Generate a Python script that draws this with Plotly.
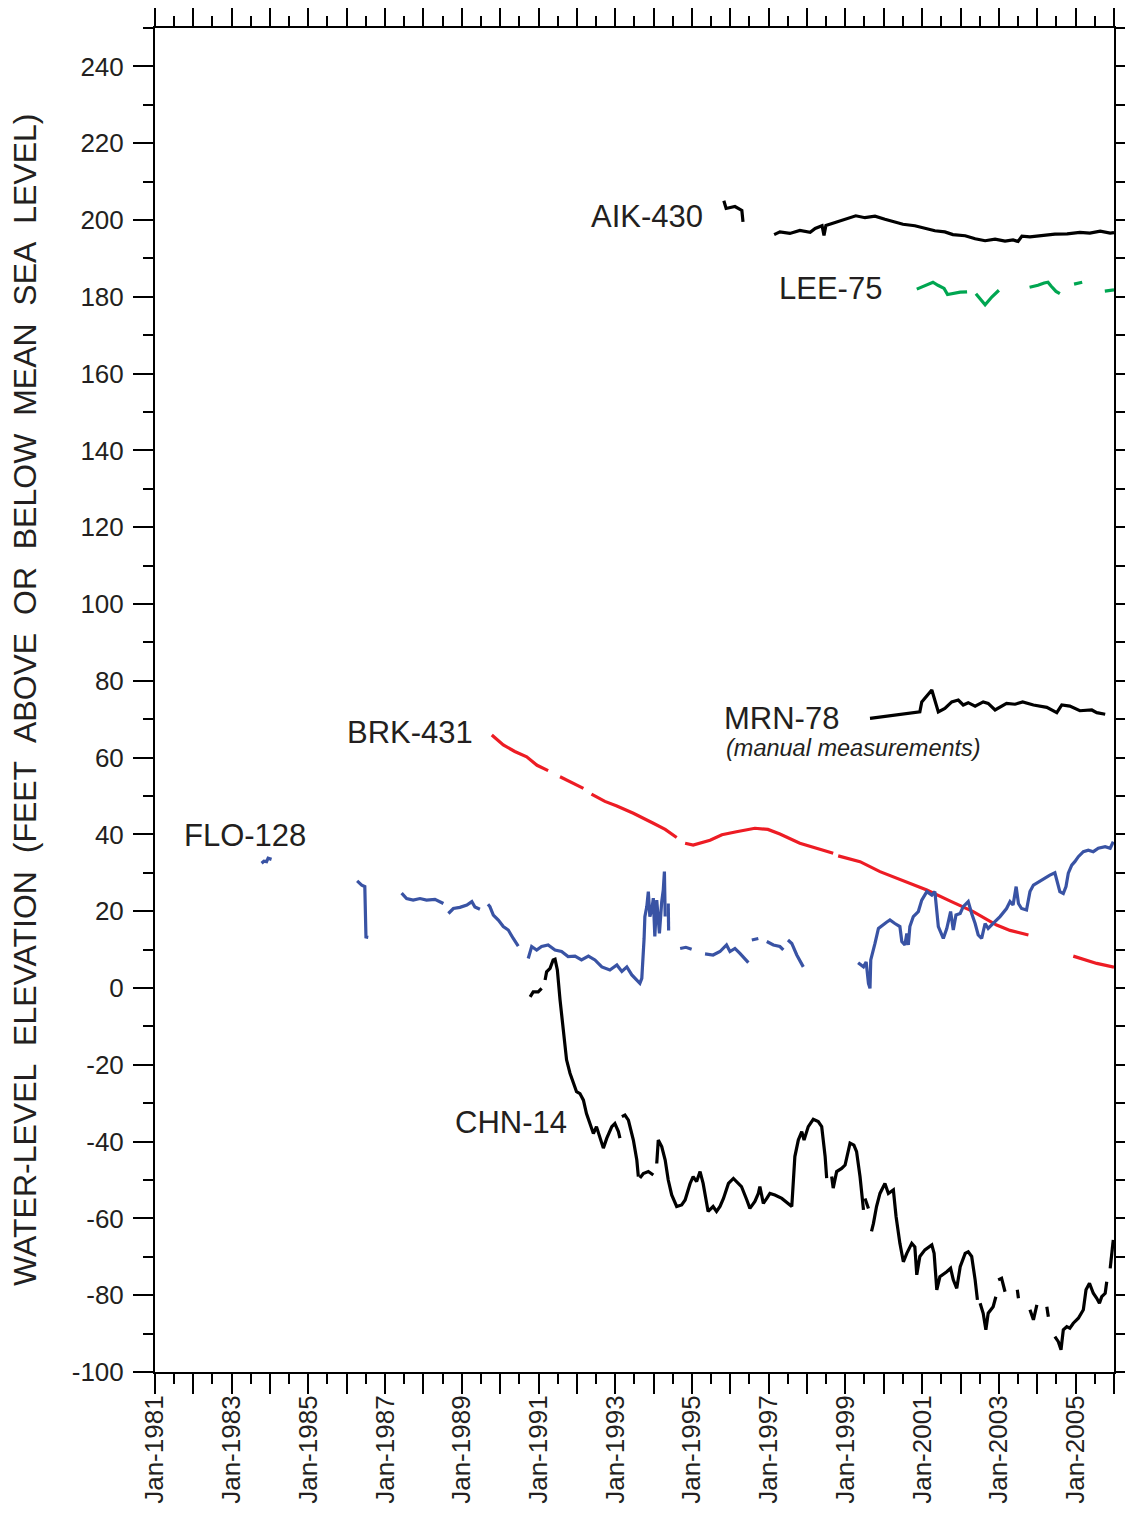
import plotly.graph_objects as go
import pandas as pd

# ---------------- data (decimal years, feet relative to mean sea level) -------------
aik_x = [1995.83, 1995.89, 1996.12, 1996.30, 1996.33, None,
         1997.14, 1997.29, 1997.55, 1997.81, 1998.08, 1998.21, 1998.39, 1998.44, 1998.49,
         1998.81, 1998.99, 1999.27, 1999.51, 1999.77, 2000.03, 2000.29, 2000.50, 2000.81,
         2001.07, 2001.33, 2001.59, 2001.80, 2002.12, 2002.38, 2002.64, 2002.90, 2003.16,
         2003.37, 2003.50, 2003.60, 2003.81, 2004.12, 2004.46, 2004.78, 2005.11, 2005.37,
         2005.64, 2005.90, 2006.00]
aik_y = [205.0, 203.0, 203.5, 202.5, 199.5, None,
         196.2, 196.9, 196.5, 197.3, 196.8, 197.8, 198.5, 196.0, 198.6,
         199.7, 200.3, 201.1, 200.6, 201.0, 200.2, 199.6, 198.9, 198.5,
         197.9, 197.2, 196.9, 196.2, 195.9, 195.1, 194.6, 195.0, 194.5,
         194.8, 194.4, 195.8, 195.6, 195.9, 196.3, 196.4, 196.8, 196.6,
         197.1, 196.6, 196.7]

lee_x = [2000.86, 2001.07, 2001.28, 2001.41, 2001.57, 2001.66, 2001.80, 2001.99, 2002.17, None,
         2002.40, 2002.51, 2002.64, 2002.82, 2003.00, None,
         2003.80, 2004.02, 2004.18, 2004.28, 2004.36, 2004.49, 2004.59, None,
         2004.96, 2005.17, None,
         2005.76, 2006.00]
lee_y = [182.0, 183.0, 183.8, 183.0, 182.2, 180.6, 180.9, 181.2, 181.3, None,
         180.8, 179.5, 177.9, 180.0, 181.7, None,
         182.5, 183.0, 183.6, 183.8, 182.8, 181.4, 180.8, None,
         183.3, 183.8, None,
         181.5, 181.8]

mrn_x = [1999.64, 2000.94, 2000.99, 2001.25, 2001.42, 2001.59, 2001.77, 2001.94, 2002.07,
         2002.20, 2002.38, 2002.59, 2002.72, 2002.90, 2003.20, 2003.42, 2003.62, 2003.90,
         2004.25, 2004.51, 2004.64, 2004.85, 2005.11, 2005.42, 2005.55, 2005.77]
mrn_y = [70.2, 71.9, 74.5, 77.6, 71.9, 72.8, 74.5, 75.0, 73.7,
         74.3, 73.4, 74.5, 74.1, 72.4, 74.1, 73.9, 74.5, 73.7,
         73.1, 71.7, 73.7, 73.4, 72.2, 72.4, 71.7, 71.3]

brk_x = [1989.78, 1990.08, 1990.38, 1990.69, 1990.96, 1991.25, None,
         1991.56, 1991.87, 1992.17, None,
         1992.38, 1992.73, 1993.04, 1993.47, 1993.99, 1994.30, 1994.60, None,
         1994.82, 1995.03, 1995.47, 1995.78, 1996.16, 1996.64, 1996.98, 1997.29, 1997.81,
         1998.16, 1998.68, None,
         1998.81, 1999.38, 1999.90, 2000.51, 2001.12, 2001.72, 2002.33, 2002.94, 2003.29,
         2003.77, None,
         2004.94, 2005.55, 2006.00]
brk_y = [65.9, 63.3, 61.6, 60.2, 58.0, 56.6, None,
         55.0, 53.5, 52.0, None,
         50.5, 48.6, 47.4, 45.5, 42.9, 41.3, 39.2, None,
         37.7, 37.2, 38.5, 39.9, 40.7, 41.6, 41.3, 40.1, 37.7,
         36.6, 35.1, None,
         34.4, 32.9, 30.3, 28.0, 25.5, 22.7, 19.9, 16.4, 15.0,
         13.8, None,
         8.3, 6.4, 5.4]

flo_x = [1983.78, 1983.84, 1983.91, 1983.95, 1984.04, None,
         1986.27, 1986.39, 1986.47, 1986.50, 1986.56, None,
         1987.43, 1987.56, 1987.73, 1987.91, 1988.08, 1988.30, 1988.52, None,
         1988.65, 1988.78, 1988.95, 1989.13, 1989.26, 1989.34, 1989.47, None,
         1989.68, 1989.73, 1989.82, 1989.95, 1990.08, 1990.21, 1990.34, 1990.47, None,
         1990.73, 1990.82, 1990.95, 1991.08, 1991.25, 1991.43, 1991.60, 1991.77, 1991.95,
         1992.12, 1992.30, 1992.47, 1992.65, 1992.86, 1993.04, 1993.17, 1993.30, 1993.43,
         1993.64, 1993.69, 1993.75, 1993.77, 1993.82, 1993.86, 1993.90, 1993.95, 1993.99,
         1994.03, 1994.08, 1994.15, 1994.21, 1994.25, 1994.28, 1994.30, None,
         1994.38, 1994.39, None,
         1994.69, 1994.84, 1994.99, None,
         1995.34, 1995.55, 1995.73, 1995.90, 1995.99, 1996.12, 1996.25, 1996.47, None,
         1996.56, 1996.73, None,
         1996.95, 1997.12, 1997.29, 1997.38, None,
         1997.50, 1997.60, 1997.73, 1997.90, None,
         1999.33, 1999.47, 1999.54, 1999.60, 1999.64, 1999.66, 1999.77, 1999.86, 2000.08,
         2000.16, 2000.29, 2000.42, 2000.47, 2000.55, 2000.60, 2000.64, 2000.68, 2000.77,
         2000.90, 2000.99, 2001.12, 2001.25, 2001.33, 2001.42, 2001.55, 2001.64, 2001.74,
         2001.81, 2001.88, 2001.99, 2002.07, 2002.20, 2002.29, 2002.38, 2002.46, 2002.55,
         2002.64, 2002.72, 2002.85, 2003.03, 2003.20, 2003.29, 2003.37, 2003.45, 2003.51,
         2003.59, 2003.72, 2003.81, 2003.90, 2004.16, 2004.33, 2004.46, 2004.51, 2004.59,
         2004.68, 2004.75, 2004.81, 2004.90, 2004.98, 2005.07, 2005.20, 2005.33, 2005.46,
         2005.59, 2005.77, 2005.90, 2005.98]
flo_y = [32.5, 33.0, 32.9, 33.8, 33.5, None,
         27.9, 26.8, 26.4, 13.3, 13.2, None,
         24.7, 23.3, 22.9, 23.3, 22.9, 23.1, 22.0, None,
         19.4, 20.7, 21.0, 21.6, 22.5, 21.1, 20.5, None,
         21.8, 21.2, 19.0, 17.7, 16.0, 15.1, 12.9, 10.9, None,
         7.7, 10.8, 9.9, 10.8, 11.2, 9.9, 9.5, 8.2, 8.3,
         7.3, 8.3, 7.3, 5.5, 4.7, 6.0, 4.3, 5.5, 3.4,
         1.2, 2.5, 12.9, 18.6, 21.2, 25.1, 18.6, 20.3, 23.4,
         13.4, 22.9, 14.2, 22.5, 25.5, 30.3, 18.6, None,
         22.0, 15.0, None,
         10.3, 10.6, 10.1, None,
         8.9, 8.6, 9.5, 11.2, 9.5, 10.3, 9.0, 6.6, None,
         12.5, 12.9, None,
         12.1, 11.2, 10.8, 9.9, None,
         12.5, 11.6, 8.6, 5.5, None,
         6.6, 5.5, 6.8, 1.2, -0.1, 7.3, 11.6, 15.5, 17.2,
         17.7, 16.8, 16.0, 12.1, 11.2, 14.2, 11.2, 16.0, 18.6,
         19.9, 22.9, 25.1, 24.2, 25.1, 16.0, 12.9, 15.5, 19.9,
         15.1, 19.0, 19.4, 21.2, 22.5, 19.4, 16.8, 13.8, 12.9,
         16.8, 15.5, 16.8, 18.6, 20.7, 22.5, 21.6, 26.4, 22.0,
         20.7, 20.3, 25.1, 26.8, 28.5, 29.4, 30.0, 28.1, 25.1,
         24.6, 26.4, 29.9, 32.0, 32.9, 34.2, 35.5, 35.9, 35.5,
         36.4, 36.8, 36.4, 38.1]

chn_x = [1990.78, 1990.86, 1990.99, 1991.08, None,
         1991.17, 1991.21, 1991.30, 1991.38, 1991.43, 1991.49, 1991.56, 1991.64, 1991.73,
         1991.82, 1991.91, 1991.99, 1992.08, 1992.17, 1992.25, 1992.34, 1992.43, 1992.51,
         1992.60, 1992.69, 1992.78, 1992.91, 1992.99, 1993.08, 1993.12, None,
         1993.17, 1993.25, 1993.34, 1993.47, 1993.56, 1993.60, None,
         1993.64, 1993.73, 1993.86, 1993.99, None,
         1994.08, 1994.12, 1994.21, 1994.30, 1994.38, 1994.47, 1994.60, 1994.73, 1994.82,
         1994.95, 1995.03, 1995.12, 1995.21, 1995.29, 1995.42, 1995.55, 1995.64, 1995.73,
         1995.82, 1995.95, 1996.08, 1996.21, 1996.29, 1996.43, 1996.51, 1996.64, 1996.73,
         1996.77, 1996.86, 1996.95, 1997.03, 1997.16, 1997.34, 1997.60, 1997.68, 1997.77,
         1997.86, 1997.92, 1998.03, 1998.16, 1998.29, 1998.38, 1998.47, 1998.51, None,
         1998.64, 1998.68, 1998.77, 1998.90, 1998.99, 1999.12, 1999.22, 1999.29, 1999.38,
         1999.47, None,
         1999.51, 1999.60, None,
         1999.68, 1999.73, 1999.81, 1999.90, 2000.03, 2000.12, 2000.25, 2000.32, 2000.42,
         2000.51, 2000.60, 2000.73, 2000.81, 2000.86, 2000.94, 2001.07, 2001.25, 2001.31,
         2001.38, 2001.46, 2001.64, 2001.74, 2001.81, 2001.90, 2001.99, 2002.12, 2002.20,
         2002.29, 2002.38, 2002.44, None,
         2002.51, 2002.59, 2002.66, 2002.72, 2002.85, 2002.92, None,
         2002.98, 2003.07, 2003.16, None,
         2003.48, 2003.51, None,
         2003.81, 2003.90, 2003.99, None,
         2004.25, 2004.29, None,
         2004.46, 2004.55, 2004.62, 2004.68, 2004.77, 2004.85, 2004.94, 2005.07, 2005.20,
         2005.27, 2005.36, 2005.46, 2005.55, 2005.62, 2005.68, 2005.77, 2005.81, None,
         2005.90, 2005.98]
chn_y = [-2.3, -1.0, -1.0, -0.1, None,
         2.1, 4.2, 5.1, 7.3, 7.5, 4.7, -3.1, -10.9, -18.7,
         -22.2, -24.8, -27.0, -27.5, -29.2, -32.7, -35.3, -37.9, -36.1,
         -38.7, -41.7, -39.1, -36.1, -35.3, -37.4, -39.1, None,
         -33.5, -33.1, -34.4, -39.6, -44.8, -49.1, None,
         -49.5, -48.3, -47.8, -48.7, None,
         -45.7, -39.6, -41.3, -44.8, -50.0, -53.9, -56.9, -56.5, -55.2,
         -50.9, -49.1, -50.4, -47.8, -50.9, -58.2, -56.9, -58.2, -56.9,
         -54.8, -50.9, -49.6, -50.9, -51.7, -55.2, -57.4, -55.6, -53.5,
         -51.7, -56.1, -54.8, -53.5, -53.9, -54.8, -56.9, -43.9, -39.6,
         -37.4, -39.6, -36.1, -34.2, -34.8, -36.1, -43.9, -49.5, None,
         -49.1, -52.1, -47.8, -47.0, -46.1, -40.4, -40.9, -42.6, -49.1,
         -57.8, None,
         -54.8, -57.4, None,
         -63.4, -61.3, -56.9, -53.5, -50.9, -53.5, -52.6, -59.5, -66.5,
         -71.3, -69.1, -66.5, -67.4, -74.7, -69.9, -68.2, -66.9, -69.1,
         -78.6, -75.2, -73.9, -73.0, -76.0, -78.2, -72.6, -69.1, -68.7,
         -69.9, -76.0, -81.2, None,
         -82.1, -84.7, -89.0, -84.7, -83.0, -80.4, None,
         -76.0, -75.6, -79.1, None,
         -78.6, -80.8, None,
         -83.8, -86.4, -82.5, None,
         -83.0, -85.6, None,
         -90.8, -92.1, -94.2, -89.0, -88.2, -88.6, -87.3, -86.0, -83.8,
         -78.6, -76.9, -79.5, -80.8, -82.1, -80.4, -79.5, -76.5, None,
         -73.0, -65.6]

# axis ticks
tick_years = list(range(1981, 2007))
label_years = list(range(1981, 2006, 2))
y_major = list(range(-100, 241, 20))
y_minor = list(range(-90, 251, 20))


def to_date(v):
    if v is None:
        return None
    yr = int(v)
    return pd.Timestamp(year=yr, month=1, day=1) + pd.Timedelta(days=(v - yr) * 365.25)


def dates(lst):
    return [to_date(v) for v in lst]


TXT = "#231f20"
FONT = "Arial, 'Liberation Sans', Helvetica, sans-serif"
LW = 3.2

fig = go.Figure()
series = [
    ("AIK-430", aik_x, aik_y, "#000000"),
    ("LEE-75", lee_x, lee_y, "#00a651"),
    ("MRN-78", mrn_x, mrn_y, "#000000"),
    ("BRK-431", brk_x, brk_y, "#ed1c24"),
    ("FLO-128", flo_x, flo_y, "#3953a4"),
    ("CHN-14", chn_x, chn_y, "#000000"),
]
for name, xs, ys, col in series:
    fig.add_trace(go.Scatter(x=dates(xs), y=ys, mode="lines", name=name,
                             line=dict(color=col, width=LW), connectgaps=False,
                             showlegend=False))

# labels
labels = [
    ("AIK-430", 1993.83, 201.0, False, 31),
    ("LEE-75", 1998.62, 182.2, False, 31),
    ("MRN-78", 1997.32, 70.3, False, 31),
    ("(manual measurements)", 1999.22, 62.5, True, 23.5),
    ("BRK-431", 1987.65, 66.6, False, 31),
    ("FLO-128", 1983.35, 39.6, False, 31),
    ("CHN-14", 1990.28, -35.1, False, 31),
]
for txt, lx, ly, ital, fs in labels:
    fig.add_annotation(x=to_date(lx), y=ly, xref="x", yref="y", text=txt, showarrow=False,
                       xanchor="center", yanchor="middle",
                       font=dict(family=FONT, size=fs, color=TXT,
                                 style="italic" if ital else "normal"))

sp = "\u00a0\u00a0"
ytitle = sp.join(["WATER-LEVEL", "ELEVATION", "(FEET", "ABOVE", "OR", "BELOW", "MEAN",
                  "SEA", "LEVEL)"])
fig.add_annotation(x=-0.1356, y=0.5, xref="paper", yref="paper", text=ytitle,
                   textangle=-90, showarrow=False, xanchor="center", yanchor="middle",
                   font=dict(family=FONT, size=32, color=TXT))

fig.update_layout(
    width=1125, height=1506,
    margin=dict(l=147, r=19, t=20, b=142, autoexpand=False),
    paper_bgcolor="white", plot_bgcolor="white",
    font=dict(family=FONT, color=TXT),
    xaxis=dict(
        type="date", automargin=False,
        range=[to_date(1981.0), to_date(2006.0)],
        tickmode="array",
        tickvals=[pd.Timestamp(year=y, month=1, day=1) for y in tick_years],
        ticktext=[("Jan-%d" % y) if y in label_years else "" for y in tick_years],
        tickangle=-90,
        ticks="outside", ticklen=20, tickwidth=2, tickcolor="black",
        showline=True, linewidth=2, linecolor="black", mirror="ticks",
        showgrid=False, zeroline=False,
        tickfont=dict(family=FONT, size=26, color=TXT),
        ticklabelstandoff=-9,
        minor=dict(tickmode="array",
                   tickvals=[pd.Timestamp(year=y, month=7, day=1) for y in tick_years[:-1]],
                   ticks="outside", ticklen=10, tickwidth=1.5, tickcolor="black",
                   showgrid=False),
    ),
    yaxis=dict(
        range=[-100, 250], automargin=False,
        tickmode="array", tickvals=y_major, ticktext=[str(v) for v in y_major],
        ticks="outside", ticklen=20, tickwidth=2, tickcolor="black",
        showline=True, linewidth=2, linecolor="black", mirror="ticks",
        showgrid=False, zeroline=False,
        tickfont=dict(family=FONT, size=26, color=TXT),
        ticklabelstandoff=4,
        minor=dict(tickmode="array", tickvals=y_minor, ticks="outside", ticklen=10,
                   tickwidth=1.5, tickcolor="black", showgrid=False),
    ),
)

fig.write_html("out.html")
